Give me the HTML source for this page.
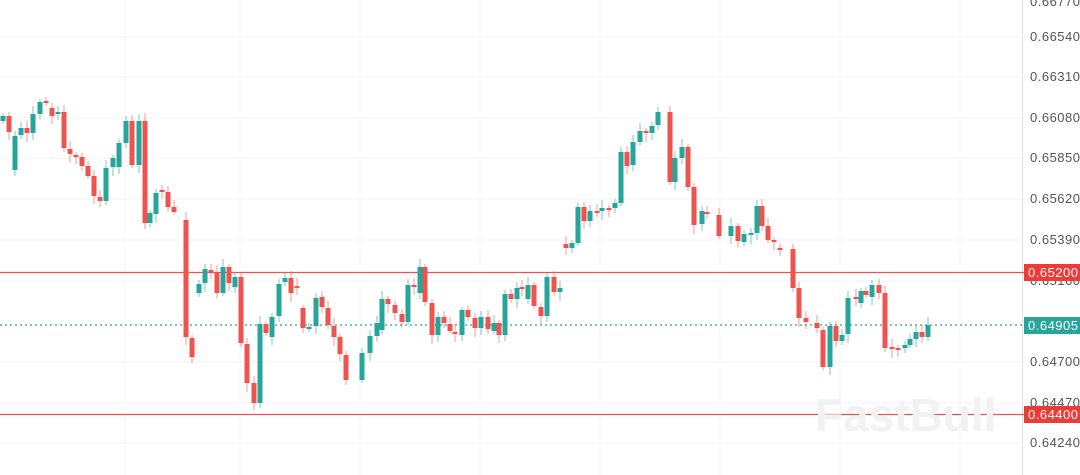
<!DOCTYPE html>
<html><head><meta charset="utf-8"><style>
html,body{margin:0;padding:0;background:#fff;}
#c{position:relative;width:1080px;height:475px;overflow:hidden;font-family:"Liberation Sans",sans-serif;}
.lab{position:absolute;left:1030px;font-size:13px;color:#555;letter-spacing:0.5px;}
.tag{position:absolute;left:1024px;width:56px;height:17px;font-size:13px;color:#fff;padding-left:4px;box-sizing:border-box;line-height:17px;letter-spacing:0.5px;}
</style></head><body><div id="c">
<svg id="s" width="1080" height="475" style="position:absolute;left:0;top:0"></svg>
<div style="position:absolute;left:815px;top:388px;font-size:46px;font-weight:bold;color:#f2f2f2;font-family:'Liberation Sans',sans-serif;">FastBull</div>
<div class="lab" style="top:-6px">0.66770</div>
<div class="lab" style="top:29px">0.66540</div>
<div class="lab" style="top:69px">0.66310</div>
<div class="lab" style="top:110px">0.66080</div>
<div class="lab" style="top:150px">0.65850</div>
<div class="lab" style="top:191px">0.65620</div>
<div class="lab" style="top:232px">0.65390</div>
<div class="lab" style="top:273px">0.65160</div>
<div class="lab" style="top:354px">0.64700</div>
<div class="lab" style="top:395px">0.64470</div>
<div class="lab" style="top:435px">0.64240</div>
<div class="tag" style="top:264px;background:#ef3b36">0.65200</div>
<div class="tag" style="top:317px;background:#26a69a">0.64905</div>
<div class="tag" style="top:406px;background:#ef3b36">0.64400</div>
</div>
<script>
var d=[[3,121,116],[9,116,132],[15,170,136],[21,135,128],[27,128,133],[33,133,114],[40,114,102],[46,101,102],[52,108,116],[58,113,112],[64,112,148],[70,149,154],[76,155,157],[82,157,166],[88,166,176],[94,176,196],[100,197,201],[106,201,168],[113,167,158],[119,167,143],[126,143,121],[132,121,165],[139,165,121],[145,121,223],[150,223,213],[156,214,193],[162,190,191],[168,192,207],[174,207,212],[186,220,337],[192,338,357],[199,293,284],[205,283,269],[211,270,271],[217,272,293],[223,293,267],[229,267,283],[235,287,277],[241,277,343],[247,344,383],[254,383,403],[260,403,324],[266,324,333],[272,337,317],[279,316,284],[285,282,278],[291,278,293],[297,286,287],[303,308,328],[309,328,327],[316,326,298],[322,297,307],[328,308,325],[334,326,337],[340,337,354],[346,355,380],[362,380,353],[370,353,336],[377,336,323],[382,330,299],[388,299,304],[395,305,313],[402,314,322],[408,322,285],[414,285,287],[420,293,267],[425,267,302],[432,303,335],[438,335,317],[444,317,323],[450,324,331],[455,332,333],[462,335,310],[468,310,317],[475,318,328],[481,328,317],[488,317,329],[494,331,323],[499,323,335],[505,335,294],[511,294,299],[517,299,288],[522,287,288],[528,299,285],[534,285,306],[541,307,316],[547,316,277],[554,277,292],[560,292,288],[566,244,248],[572,248,243],[578,243,207],[584,207,221],[590,221,211],[597,211,212],[602,211,208],[609,208,209],[615,208,203],[621,203,152],[627,152,166],[633,165,142],[640,142,131],[646,131,132],[652,133,126],[658,125,112],[670,112,182],[675,182,158],[682,158,147],[688,147,187],[694,187,225],[702,224,211],[707,212,214],[719,215,236],[731,236,226],[738,226,241],[744,242,234],[751,234,233],[757,233,206],[762,206,226],[768,226,240],[774,240,242],[780,248,249],[793,249,288],[799,288,318],[806,318,322],[817,323,328],[823,330,367],[830,367,326],[836,326,341],[842,341,335],[848,334,298],[856,297,298],[861,303,291],[866,291,295],[872,297,285],[879,285,293],[885,293,348],[892,347,348],[898,348,349],[905,348,345],[910,345,339],[916,339,332],[922,332,337],[928,337,325]];
var s='';
[37,77,118,158,199,240,281,362,403,443].forEach(function(y){s+='<line x1="0" x2="1022" y1="'+y+'" y2="'+y+'" stroke="#f3f3f3"/>';});
[125,240,360,480,600,720,840,960].forEach(function(x){s+='<line x1="'+x+'" x2="'+x+'" y1="0" y2="475" stroke="#f5f5f5"/>';});
s+='<line x1="1022.5" x2="1022.5" y1="0" y2="475" stroke="#e0e0e0"/>';
s+='<line x1="0" x2="1024" y1="272.5" y2="272.5" stroke="#ef5350" stroke-width="1.3"/>';
s+='<line x1="0" x2="1024" y1="414.5" y2="414.5" stroke="#ef5350" stroke-width="1.3"/>';
s+='<line x1="0" x2="1024" y1="325" y2="325" stroke="#26a69a" stroke-width="1.3" stroke-dasharray="2,3"/>';
d.forEach(function(c,i){var x=c[0],o=c[1],cl=c[2],col=cl<=o?'#26a69a':'#ef5350';var t=Math.min(o,cl),b=Math.max(o,cl);if(b-t<2)b=t+2;var w1=3+(i*7%6),w2=3+(i*5%7);s+='<line x1="'+x+'" x2="'+x+'" y1="'+(t-w1)+'" y2="'+(b+w2)+'" stroke="'+col+'" stroke-opacity="0.6"/>';s+='<rect x="'+(x-2.5)+'" y="'+t+'" width="5" height="'+(b-t)+'" fill="'+col+'"/>';});
document.getElementById('s').innerHTML=s;
</script>
</body></html>
